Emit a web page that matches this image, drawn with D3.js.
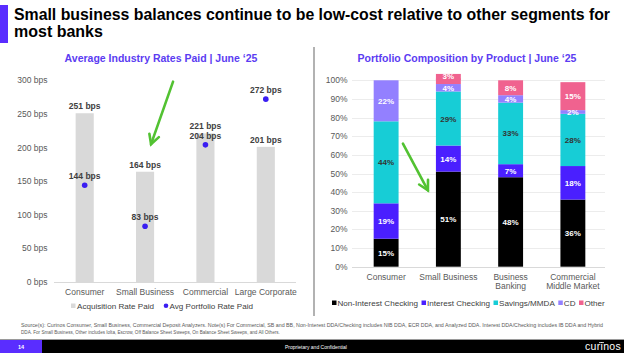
<!DOCTYPE html>
<html>
<head>
<meta charset="utf-8">
<script src="https://cdn.jsdelivr.net/npm/d3@7"></script>
<style>
  body { margin: 0; background: #fff; }
  svg { display: block; font-family: "Liberation Sans", Arial, sans-serif; }
  .tick-label { fill: #595959; font-size: 8.5px; }
  .data-label { fill: #404040; font-size: 8.5px; font-weight: bold; }
  .seg-label { font-size: 8px; font-weight: bold; }
  .legend-text { fill: #404040; font-size: 8.1px; }
</style>
</head>
<body>
<div id="chart"></div>
<script>
// ---- data ----
const rateCategories = ['Consumer', 'Small Business', 'Commercial', 'Large Corporate'];
const acquisitionRate = [251, 164, 221, 201];
const portfolioRate = [144, 83, 204, 272];
const rateTicks = [0, 50, 100, 150, 200, 250, 300];

const mixCategories = ['Consumer', 'Small Business', 'Business Banking', 'Commercial Middle Market'];
const mixCategoryLines = [['Consumer'], ['Small Business'], ['Business', 'Banking'], ['Commercial', 'Middle Market']];
const products = ['Non-Interest Checking', 'Interest Checking', 'Savings/MMDA', 'CD', 'Other'];
const nonInterestChecking = [15, 51, 48, 36];
const interestChecking = [19, 14, 7, 18];
const savingsMmda = [44, 29, 33, 28];
const cd = [22, 4, 4, 2];
const other = [0, 3, 8, 15];
const pctTicks = [0, 10, 20, 30, 40, 50, 60, 70, 80, 90, 100];

const productColors = ['#000000', '#4a1fff', '#17cdd6', '#9380ff', '#f0628f'];
const productText = ['#ffffff', '#ffffff', '#333333', '#ffffff', '#ffffff'];

const W = 624, H = 353;
const svg = d3.select('#chart').append('svg').attr('width', W).attr('height', H);

// ---- header ----
svg.append('rect').attr('x', 0).attr('y', 5).attr('width', 8).attr('height', 38).attr('fill', '#5a2dff');
svg.append('text').attr('x', 14).attr('y', 20).attr('font-size', 16).attr('font-weight', 'bold').attr('fill', '#000')
    .attr('textLength', 596).attr('lengthAdjust', 'spacingAndGlyphs')
    .text('Small business balances continue to be low-cost relative to other segments for');
svg.append('text').attr('x', 14).attr('y', 37).attr('font-size', 16).attr('font-weight', 'bold').attr('fill', '#000')
    .text('most banks');

svg.append('text').attr('x', 161).attr('y', 62).attr('text-anchor', 'middle')
    .attr('font-size', 10.5).attr('font-weight', 'bold').attr('fill', '#5b3cf2')
    .text('Average Industry Rates Paid | June \u201825');
svg.append('text').attr('x', 467).attr('y', 62).attr('text-anchor', 'middle')
    .attr('font-size', 10.5).attr('font-weight', 'bold').attr('fill', '#5b3cf2')
    .text('Portfolio Composition by Product | June \u201825');

svg.append('line').attr('x1', 314).attr('x2', 314).attr('y1', 47).attr('y2', 316)
    .attr('stroke', '#7f7f7f').attr('stroke-width', 1.2);

// ---- left chart: rates ----
const xL = d3.scaleBand().domain(rateCategories).range([54.5, 296]).paddingInner(0.7).paddingOuter(0.35);
const yL = d3.scaleLinear().domain([0, 300]).range([282, 80.3]);
const left = svg.append('g');

left.selectAll('.ytick').data(rateTicks).join('text')
    .attr('class', 'tick-label').attr('x', 47.5).attr('y', d => yL(d) + 3)
    .attr('text-anchor', 'end').text(d => `${d} bps`);

left.selectAll('.acq-bar').data(rateCategories).join('rect')
    .attr('x', d => xL(d)).attr('width', xL.bandwidth())
    .attr('y', (d, i) => yL(acquisitionRate[i]))
    .attr('height', (d, i) => yL(0) - yL(acquisitionRate[i]))
    .attr('fill', '#d9d9d9');

left.append('line').attr('x1', 54).attr('x2', 296).attr('y1', yL(0) + 0.5).attr('y2', yL(0) + 0.5)
    .attr('stroke', '#d9d9d9');

left.selectAll('.acq-label').data(rateCategories).join('text')
    .attr('class', 'data-label').attr('text-anchor', 'middle')
    .attr('x', d => xL(d) + xL.bandwidth() / 2)
    .attr('y', (d, i) => yL(acquisitionRate[i]) - 4)
    .text((d, i) => `${acquisitionRate[i]} bps`);

left.selectAll('.dot').data(rateCategories).join('circle')
    .attr('cx', d => xL(d) + xL.bandwidth() / 2)
    .attr('cy', (d, i) => yL(portfolioRate[i]))
    .attr('r', 2.8).attr('fill', '#3a1ef2');

left.selectAll('.dot-label').data(rateCategories).join('text')
    .attr('class', 'data-label').attr('text-anchor', 'middle')
    .attr('x', d => xL(d) + xL.bandwidth() / 2)
    .attr('y', (d, i) => yL(portfolioRate[i]) - 6)
    .text((d, i) => `${portfolioRate[i]} bps`);

left.selectAll('.xcat').data(rateCategories).join('text')
    .attr('class', 'tick-label').attr('text-anchor', 'middle')
    .attr('x', d => xL(d) + xL.bandwidth() / 2).attr('y', 295)
    .text(d => d);

// legend
left.append('rect').attr('x', 71).attr('y', 303.5).attr('width', 4.5).attr('height', 4.5).attr('fill', '#d9d9d9');
left.append('text').attr('class', 'legend-text').attr('x', 77).attr('y', 309).text('Acquisition Rate Paid');
left.append('circle').attr('cx', 166).attr('cy', 305.8).attr('r', 2.3).attr('fill', '#3a1ef2');
left.append('text').attr('class', 'legend-text').attr('x', 169.5).attr('y', 309).text('Avg Portfolio Rate Paid');

// ---- right chart: composition ----
const xR = d3.scaleBand().domain(mixCategories).range([355, 604]).paddingInner(0.6).paddingOuter(0.3);
const yR = d3.scaleLinear().domain([0, 100]).range([266.7, 80.3]);
const right = svg.append('g');

right.selectAll('.grid').data(pctTicks).join('line')
    .attr('x1', 352).attr('x2', 605)
    .attr('y1', d => Math.round(yR(d)) + 0.5).attr('y2', d => Math.round(yR(d)) + 0.5)
    .attr('stroke', d => d === 0 ? '#d9d9d9' : '#ececec');

right.selectAll('.ytick').data(pctTicks).join('text')
    .attr('class', 'tick-label').attr('x', 347.5).attr('y', d => yR(d) + 3)
    .attr('text-anchor', 'end').text(d => `${d}%`);

const table = mixCategories.map((c, i) => ({
  category: c,
  'Non-Interest Checking': nonInterestChecking[i],
  'Interest Checking': interestChecking[i],
  'Savings/MMDA': savingsMmda[i],
  'CD': cd[i],
  'Other': other[i]
}));
const stacked = d3.stack().keys(products)(table);

const layers = right.selectAll('.layer').data(stacked).join('g')
    .attr('fill', (d, i) => productColors[i]);

layers.selectAll('rect').data(d => d).join('rect')
    .attr('x', d => xR(d.data.category)).attr('width', xR.bandwidth())
    .attr('y', d => yR(d[1])).attr('height', d => yR(d[0]) - yR(d[1]));

// tiny top segments get their label lifted above, on a box of the segment colour
const lifted = d => d[1] - d[0] < 4 && d[1] > 99.5;
stacked.forEach((layer, li) => {
  const segs = layer.filter(d => d[1] - d[0] > 0);
  right.selectAll(`.seg-box-${li}`).data(segs.filter(lifted)).join('rect')
      .attr('x', d => xR(d.data.category)).attr('width', xR.bandwidth())
      .attr('y', d => yR(d[1]) - 4.5).attr('height', 6)
      .attr('fill', productColors[li]);
  right.selectAll(`.seg-label-${li}`).data(segs).join('text')
      .attr('class', 'seg-label').attr('text-anchor', 'middle')
      .attr('fill', productText[li])
      .attr('x', d => xR(d.data.category) + xR.bandwidth() / 2)
      .attr('y', d => lifted(d) ? yR(d[1]) + 0.5 : yR((d[0] + d[1]) / 2) + 3)
      .text(d => `${d[1] - d[0]}%`);
});

right.selectAll('.xcat').data(mixCategories).join('text')
    .attr('class', 'tick-label').attr('text-anchor', 'middle')
    .attr('x', d => xR(d) + xR.bandwidth() / 2).attr('y', 280)
  .selectAll('tspan').data((d, i) => mixCategoryLines[i]).join('tspan')
    .attr('x', function() { return this.parentNode.getAttribute('x'); })
    .attr('dy', (d, i) => i === 0 ? 0 : 8.6)
    .text(d => d);

// legend
let lx = 332;
products.forEach((p, i) => {
  right.append('rect').attr('x', lx).attr('y', 300.5).attr('width', 4.5).attr('height', 4.5).attr('fill', productColors[i]);
  const t = right.append('text').attr('class', 'legend-text').attr('x', lx + 5.5).attr('y', 306).text(p);
  lx += 5.5 + t.node().getComputedTextLength() + 3.5;
});

// ---- green annotation arrows ----
const arrow = (x1, y1, x2, y2) => {
  const ang = Math.atan2(y2 - y1, x2 - x1), len = 10.5;
  const head = [ang + Math.PI - 0.5, ang + Math.PI + 0.5]
      .map(a => [x2 + len * Math.cos(a), y2 + len * Math.sin(a)]);
  const g = svg.append('g').attr('stroke', '#52c232').attr('stroke-width', 2.6)
      .attr('stroke-linecap', 'round').attr('fill', 'none');
  g.append('path').attr('d', d3.line()([[x1, y1], [x2, y2]]));
  g.append('path').attr('d', d3.line()([head[0], [x2, y2], head[1]]));
};
const sbL = xL('Small Business') + xL.bandwidth() / 2;
arrow(sbL + 28, yL(298), sbL + 6, yL(205));
const sbR = xR('Small Business');
arrow(sbR - 33, yR(66), sbR - 8, yR(41));

// ---- footer ----
svg.append('text').attr('x', 21).attr('y', 326.5).attr('font-size', 4.6).attr('fill', '#595959')
    .attr('textLength', 582).attr('lengthAdjust', 'spacingAndGlyphs')
    .text('Source(s): Curinos Consumer, Small Business, Commercial Deposit Analyzers. Note(s) For Commercial, SB and BB, Non-Interest DDA/Checking includes NIB DDA, ECR DDA, and Analyzed DDA. Interest DDA/Checking includes IB DDA and Hybrid');
svg.append('text').attr('x', 21).attr('y', 333.5).attr('font-size', 4.6).attr('fill', '#595959')
    .text('DDA. For Small Business, Other includes Iolta, Escrow, Off Balance Sheet Sweeps, On Balance Sheet Sweeps, and All Others.');

svg.append('line').attr('x1', 0).attr('x2', W).attr('y1', 339.5).attr('y2', 339.5).attr('stroke', '#9a9a9a');
svg.append('rect').attr('x', 0).attr('y', 340).attr('width', W).attr('height', 13).attr('fill', '#000');
svg.append('rect').attr('x', 0).attr('y', 340).attr('width', 42).attr('height', 13).attr('fill', '#5a2dff');
svg.append('text').attr('x', 18).attr('y', 349).attr('font-size', 5.5).attr('font-weight', 'bold').attr('fill', '#fff').text('14');
svg.append('text').attr('x', 316).attr('y', 349).attr('text-anchor', 'middle').attr('font-size', 5).attr('fill', '#fff')
    .text('Proprietary and Confidential');
svg.append('text').attr('x', 603).attr('y', 350).attr('text-anchor', 'middle').attr('font-size', 10.5)
    .attr('fill', '#fff').attr('letter-spacing', 0.3).text('curinos');
svg.append('line').attr('x1', 599).attr('x2', 604).attr('y1', 342.6).attr('y2', 342.6).attr('stroke', '#fff').attr('stroke-width', 0.8);
</script>
</body>
</html>
